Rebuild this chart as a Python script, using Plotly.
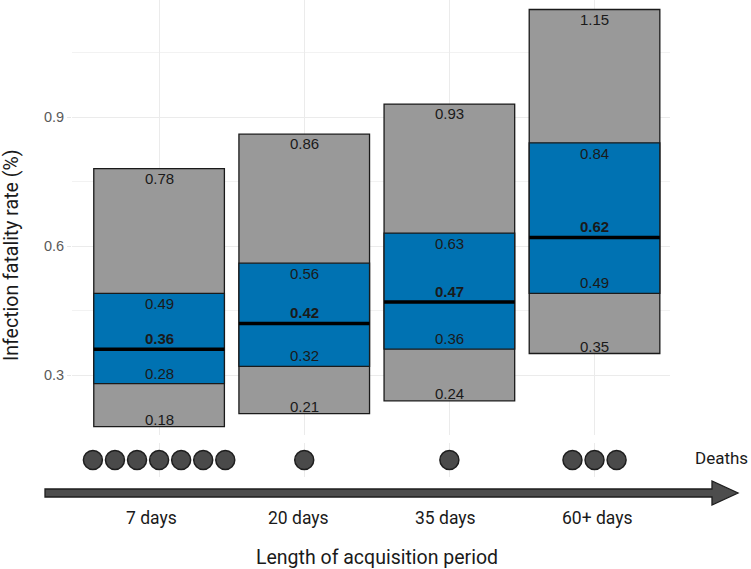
import plotly.graph_objects as go

# ---- data ----
periods = ["7 days", "20 days", "35 days", "60+ days"]
outer_low = [0.18, 0.21, 0.24, 0.35]
inner_low = [0.28, 0.32, 0.36, 0.49]
median = [0.36, 0.42, 0.47, 0.62]
inner_high = [0.49, 0.56, 0.63, 0.84]
outer_high = [0.78, 0.86, 0.93, 1.15]
deaths = [7, 1, 1, 3]
y_ticks = [0.3, 0.6, 0.9]

W, H = 751, 569
ML, MR = 72, 81
PW = W - ML - MR


def px_x(p):
    return (p - ML) / PW


def px_y(p):
    return (H - p) / H


xpos = [i + 1 for i in range(len(periods))]
BW = 0.9
GREY = "#999999"
BLUE = "#0072B2"

fig = go.Figure()

fig.add_trace(go.Bar(
    x=xpos, base=outer_low,
    y=[h - l for h, l in zip(outer_high, outer_low)],
    width=BW, marker=dict(color=GREY, line=dict(color="#1a1a1a", width=1.3)),
    hoverinfo="skip", showlegend=False))
fig.add_trace(go.Bar(
    x=xpos, base=inner_low,
    y=[h - l for h, l in zip(inner_high, inner_low)],
    width=BW, marker=dict(color=BLUE, line=dict(color="#1a1a1a", width=1.3)),
    hoverinfo="skip", showlegend=False))

# median lines
mx, my = [], []
for x, m in zip(xpos, median):
    mx += [x - BW / 2, x + BW / 2, None]
    my += [m, m, None]
fig.add_trace(go.Scatter(x=mx, y=my, mode="lines",
                         line=dict(color="black", width=3.5),
                         hoverinfo="skip", showlegend=False))

# death dots
DS = 0.152
dx, dy = [], []
for x, n in zip(xpos, deaths):
    for k in range(n):
        dx.append(x + (k - (n - 1) / 2) * DS)
        dy.append(0)
fig.add_trace(go.Scatter(x=dx, y=dy, yaxis="y2", mode="markers",
                         marker=dict(size=19, color="#4a4a4a",
                                     line=dict(color="#1e1e1e", width=1.5)),
                         hoverinfo="skip", showlegend=False, cliponaxis=False))

ann = []
LF = dict(family="Liberation Sans, Arial, sans-serif", size=15, color="#1a1a1a")
for x, v in zip(xpos, outer_high):
    ann.append(dict(x=x, y=v, text=f"{v:.2f}", yanchor="top", yshift=1,
                    showarrow=False, font=LF))
for x, v in zip(xpos, inner_high):
    ann.append(dict(x=x, y=v, text=f"{v:.2f}", yanchor="top", yshift=0,
                    showarrow=False, font=LF))
for x, v in zip(xpos, inner_low):
    ann.append(dict(x=x, y=v, text=f"{v:.2f}", yanchor="bottom", yshift=0,
                    showarrow=False, font=LF))
for x, v in zip(xpos, outer_low):
    ann.append(dict(x=x, y=v, text=f"{v:.2f}", yanchor="bottom", yshift=-3,
                    showarrow=False, font=LF))
for x, v in zip(xpos, median):
    ann.append(dict(x=x, y=v, text=f"<b>{v:.2f}</b>", yanchor="bottom", yshift=0,
                    showarrow=False, font=LF))

RF = "Roboto, sans-serif"
label_shift = [-8, -6, -4, 3]
for x, lab, s in zip(xpos, periods, label_shift):
    ann.append(dict(x=x, xref="x", y=px_y(518), yref="paper", text=lab,
                    xshift=s, yanchor="middle", showarrow=False,
                    font=dict(family=RF, size=17.5, color="#1a1a1a")))

ann.append(dict(x=px_x(377), xref="paper", y=px_y(557), yref="paper",
                text="Length of acquisition period", showarrow=False,
                yanchor="middle", font=dict(family=RF, size=19.5, color="#1a1a1a")))
ann.append(dict(x=px_x(12), xref="paper", y=px_y(256), yref="paper",
                text="Infection fatality rate (%)", textangle=-90, showarrow=False,
                xanchor="center", yanchor="middle",
                font=dict(family=RF, size=19.5, color="#1a1a1a")))
ann.append(dict(x=px_x(750), xref="paper", y=px_y(458), yref="paper",
                text="Deaths", showarrow=False, xanchor="right", yanchor="middle",
                font=dict(family=RF, size=17, color="#1a1a1a")))

# arrow
pts = [(45, 489), (712, 489), (712, 481), (738, 493), (712, 505), (712, 497), (45, 497)]
path = "M " + " L ".join(f"{px_x(a):.5f},{px_y(b):.5f}" for a, b in pts) + " Z"
shapes = [dict(type="path", xref="paper", yref="paper", path=path,
               fillcolor="#4d4d4d", line=dict(color="#1e1e1e", width=1.3))]

main_bottom = px_y(435)
dot_c = px_y(460)
fig.update_layout(
    width=W, height=H,
    margin=dict(l=ML, r=MR, t=0, b=0),
    plot_bgcolor="white", paper_bgcolor="white",
    barmode="overlay", showlegend=False,
    xaxis=dict(range=[0.4, 4.52], tickvals=xpos, showticklabels=False,
               showgrid=True, gridcolor="#ebebeb", gridwidth=1.1,
               zeroline=False, showline=False, ticks=""),
    yaxis=dict(domain=[main_bottom, 1], range=[0.1605, 1.1721],
               tickvals=y_ticks, ticktext=[f"{t:.1f}" for t in y_ticks],
               showgrid=True, gridcolor="#ebebeb", gridwidth=1.1,
               ticks="outside", ticklen=4, tickcolor="#e6e6e6",
               tickfont=dict(family="Liberation Sans, Arial, sans-serif",
                             size=14.5, color="#5a5a5a"),
               minor=dict(tickvals=[0.45, 0.75, 1.05], showgrid=True,
                          gridcolor="#f2f2f2", gridwidth=0.8, ticks=""),
               zeroline=False, showline=False),
    yaxis2=dict(domain=[dot_c - 0.03, dot_c + 0.03], range=[-1, 1],
                visible=False, fixedrange=True),
    annotations=ann, shapes=shapes,
)

fig.write_html("out.html", config={"displayModeBar": False},
               post_script="document.body.style.margin='0';document.body.style.overflow='hidden';")
